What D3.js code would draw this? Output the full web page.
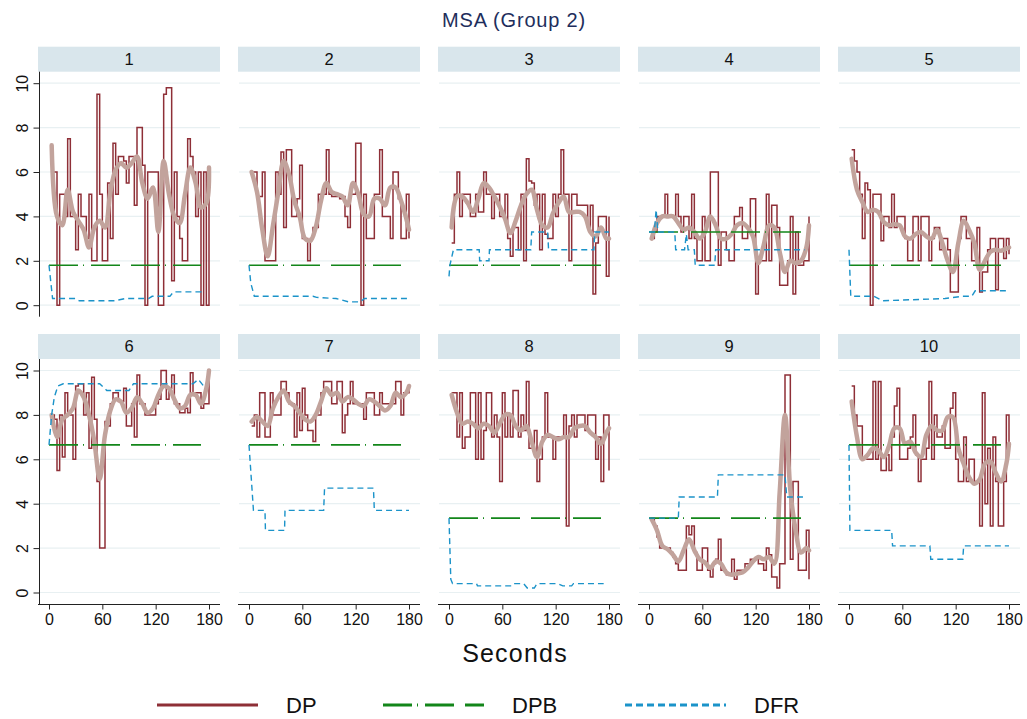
<!DOCTYPE html>
<html>
<head>
<meta charset="utf-8">
<script src="https://cdn.jsdelivr.net/npm/d3@7"></script>
<style>
  body { margin: 0; background: #fff; }
  svg { display: block; }
  text { font-family: "Liberation Sans", Arial, Helvetica, sans-serif; }
</style>
</head>
<body>
<svg id="chart" width="1027" height="719"></svg>
<script>
// ---- data -------------------------------------------------------------
const panels = ["1", "2", "3", "4", "5", "6", "7", "8", "9", "10"];
const seconds = d3.range(3, 181, 3);                      // DP sampling times
const smoothSeconds = d3.range(3, 180, 6).concat([180]);  // smoothed DP times
const xTicks = [0, 60, 120, 180];
const yTicks = [0, 2, 4, 6, 8, 10];

// DP (observed) per subject
const dp1 = [6,6,0,5,5,4,7.5,4,4,2.5,5,4,4,3,5,2,2,9.5,5,2,2,5.5,3,7.3,5,6.7,6.7,6.5,5.5,6.7,6.7,4.5,8,8,6.3,0,6,6,6,6,0,0,9.5,9.8,9.8,1.1,6,4,3,2,2,7.5,6.7,6,4,6,0,6,0,5];
const dp2 = [6,6,4.9,4.9,6,2,2,2,2,6,5,6.9,3.5,7,7,4,4,4.8,6.3,3,3,2,3,3.5,3.5,5,5,5,7,5,4.9,4.9,4.9,4.8,4.9,4,3.5,5,5,7.3,7.3,0,5,3,3,3,5,5,7,4,4,4,3,6,6,4.8,3,3,5,3];
const dp3 = [2.8,5,6,4,5,5,5,4,4,5,4.2,4.2,6,5,5,3.9,5,5,4,4,5,3,2.2,3.5,3.5,2.5,5,2,6.6,5.6,5.5,4.5,5,2.5,5,3.2,3,3,5,4,5,7,5,5,2,5,5,4.5,4.5,4.5,4.5,3.5,4.5,0.5,2.8,4,4,4,1.3,4];
const dp4 = [3,3.3,4,4,4,5,4,4,4,5,4,3.3,4,4,3,5,3,2,2,4,2,2,6,6,6,1.8,3.3,3.3,2.5,2,2,4,4,4.4,3,3,3.3,4.8,4.8,0.5,2,2,2,5,2,4.5,4.5,3.5,0.9,0.9,0.9,2,4,0.5,3.3,1.8,1.8,2,2,4];
const dp5 = [7,6.5,6,5,3,5.5,5.2,0,5,5,5,2.9,4,4,3.5,5,3.5,4,4,4,3,2,2,4,4,2,4,4,4,2,3,3.5,3.5,2.5,3,3,2.5,0.6,0.6,0.6,3,4,4,3,3,2,2,3.5,0.6,1.5,1.5,2.5,3,3,0.7,3,3,2.1,3,2.3];
const dp6 = [8,7.8,5.5,8,6.1,9,8,8,6,9.3,9.4,9.4,8,9,6.5,9.7,7.8,5,2,2,7.7,7.5,8.5,9,9,8.6,8.6,9.2,7.5,7.5,8.5,7,9.8,8.5,8.5,8,8,8,8,8.5,8.7,10,10,8.7,9.2,9.8,8.5,8.5,8.1,8.1,8.3,8.1,9.9,9,9,9,8.3,8.5,8.5,10];
const dp7 = [7.5,8,7,9,9,7,7,9,8,8,8,9.5,9.5,9,8.5,8.5,7,9,7.3,9.2,8,7.3,7.3,6.8,8,8,9,9.5,9.5,9.5,8.5,8.5,9.5,9.5,7.2,8,8.5,9.5,8.5,8.5,8.5,8.5,7.8,9,9,9,8,8,9,8.5,8.5,8.5,8.5,8.5,9.5,9.5,8,9,9,9.3];
const dp8 = [9,9,7,9,6.5,7,7,9,9,6,9,6,7.3,9,9,7,8,7,5,9,7,8,7,9.1,9.1,7,8,7.3,9.5,6.5,6.5,7.3,5,6,7,9,7,7,6,7,7,7,8,3,7.5,8,7,8,8,8,7.3,8,8,8,6,7,5,8,8,5.5];
const dp9 = [3.35,3,2.5,2,2,2,2,1.8,1.6,1.3,1,1,1,3,2.6,3,1.8,1,1,2,2,1,0.7,1.3,1.5,2.4,1,1,0.8,0.8,1.5,0.6,1,1,1,1.3,1.3,1.5,1.5,1.5,1.3,1.3,1,2,1.7,0.7,0.7,0.2,1.3,1.3,9.8,9.8,1.5,5,5,1,1,1,2.8,0.6];
const dp10 = [9.3,8,7.5,7.5,6,6,6,6,9.5,6,9.5,5.5,5.5,6.2,5.5,7,8.4,9.2,6,6,6,6.5,7,8,6.2,5,6,6,6.5,9.5,6,8,7,7,7.5,6.5,6.5,8.3,9,6,5,5,7,5,6,6,5,5,3,9,4,6.5,3,7,5,3,3,5,8,6.2];

// Smoothed DP per subject
const sm1 = [7.2,4.0,3.6,5.2,4.2,3.8,3.4,2.6,3.5,3.8,3.5,5.1,6.1,6.4,6.2,6.4,6.7,5.5,4.8,5.3,3.3,6.5,5.0,4.0,3.7,5.0,6.2,5.5,4.4,4.6,6.2];
const sm2 = [6.0,5.1,3.4,2.2,3.6,5.1,6.5,5.9,4.7,4.0,3.0,2.9,3.5,4.7,5.5,5.1,5.0,4.9,4.5,5.5,5.0,4.1,4.0,4.8,4.8,4.5,5.3,5.3,4.7,3.9,3.4];
const sm3 = [3.5,4.9,4.9,4.6,4.2,4.8,5.5,5.3,4.9,4.45,3.9,3.25,3.8,4.5,5.0,5.2,4.3,3.6,3.5,4.15,4.6,4.9,4.2,4.2,4.2,4.0,3.3,3.1,3.5,3.0,3.0];
const sm4 = [3.0,3.7,4.0,4.0,4.0,3.7,3.4,3.5,3.3,3.0,3.3,4.0,3.6,3.0,3.0,3.2,3.6,3.7,3.5,3.1,1.9,2.7,3.6,3.5,2.4,1.5,2.0,1.9,2.0,2.6,3.6];
const sm5 = [6.6,5.2,4.65,4.2,4.3,4.2,3.75,3.6,3.65,3.6,3.1,3.0,3.2,3.3,3.1,3.0,3.4,2.8,2.0,1.5,2.8,3.8,3.4,2.8,1.6,2.0,2.4,2.5,2.45,2.55,2.6];
const sm6 = [8.0,7.0,7.8,8.0,8.3,9.1,8.8,8.0,6.8,5.1,7.1,8.2,8.7,8.6,8.1,8.3,8.8,8.5,8.1,8.3,8.9,9.3,9.2,8.7,8.3,8.4,8.9,8.9,8.5,9.2,10.0];
const sm7 = [7.7,7.9,7.7,7.5,8.3,8.8,9.1,8.6,8.4,8.1,7.8,7.7,8.0,8.6,9.2,8.9,9.0,8.6,8.8,8.7,8.5,8.4,8.7,8.6,8.4,8.2,8.4,9.0,8.8,9.0,9.3];
const sm8 = [8.9,8.1,7.6,7.7,7.6,7.4,7.6,7.5,7.2,7.6,8.0,8.0,7.5,7.3,7.5,6.8,6.1,6.8,7.1,7.0,6.9,7.0,7.0,7.4,7.5,7.5,7.2,7.0,6.7,7.2,7.4];
const sm9 = [3.3,2.8,2.1,1.95,1.7,1.4,1.9,2.4,1.9,1.5,1.35,1.1,1.4,1.3,0.9,0.8,0.85,0.9,1.1,1.4,1.6,1.5,1.6,1.3,4.5,8.0,4.6,2.8,1.8,2.0,1.9];
const sm10 = [8.6,7.0,6.0,6.2,6.5,6.4,6.1,6.6,7.4,7.4,6.7,6.8,6.3,6.1,7.1,7.5,7.3,7.3,7.9,7.9,6.5,5.8,5.2,4.9,5.1,5.8,5.9,5.4,5.0,5.8,6.7];

// DPB (benchmark) level per subject
const dpb = [1.8, 1.8, 1.8, 3.3, 1.8, 6.65, 6.65, 3.35, 3.35, 6.65];
const dpbSpan = [0, 171];

// DFR path per subject: [second, value]
const dfr1 = [[0,1.8],[4,0.3],[30,0.3],[34,0.2],[74,0.2],[86,0.3],[112,0.3],[116,0.4],[136,0.4],[140,0.6],[174,0.6]];
const dfr2 = [[0,1.8],[2,1.0],[6,0.4],[72,0.4],[76,0.35],[98,0.3],[112,0.15],[125,0.15],[130,0.3],[180,0.3]];
const dfr3 = [[0,1.3],[1,1.8],[5,2.5],[34,2.5],[34.5,2.0],[45,2.0],[45.5,2.5],[92,2.5],[93,3.3],[111,3.3],[112,2.5],[163,2.5],[164,3.3],[180,3.3]];
const dfr4 = [[0,3.3],[6,3.3],[8,4.3],[10,3.3],[29,3.3],[30,2.5],[40,2.5],[42,3.2],[44,2.5],[51,2.5],[52,1.8],[74,1.8],[75,2.5],[175,2.5]];
const dfr5 = [[0,2.5],[2,0.4],[28,0.4],[38,0.2],[108,0.3],[128,0.4],[138,0.4],[142,0.65],[180,0.65]];
const dfr6 = [[0,6.65],[3,8.0],[6,8.8],[10,9.3],[16,9.4],[57,9.4],[65,9.1],[90,9.1],[95,9.4],[162,9.4],[168,9.6],[174,9.3]];
const dfr7 = [[0,6.65],[5,3.7],[18,3.7],[18.5,2.8],[40,2.8],[40.5,3.7],[84,3.7],[85,4.7],[140,4.7],[141,3.7],[180,3.7]];
const dfr8 = [[0,3.35],[2,0.6],[4,0.4],[31,0.4],[32,0.3],[72,0.3],[74,0.4],[84,0.4],[88,0.2],[96,0.2],[99,0.4],[122,0.4],[128,0.3],[138,0.3],[140,0.4],[174,0.4]];
const dfr9 = [[0,3.35],[33,3.35],[34,4.3],[77,4.3],[78,5.3],[153,5.3],[155,4.3],[174,4.3]];
const dfr10 = [[0,6.65],[1,2.8],[48,2.8],[49,2.1],[91,2.1],[92,1.5],[128,1.5],[129,2.1],[180,2.1]];

const dpSeries = [dp1, dp2, dp3, dp4, dp5, dp6, dp7, dp8, dp9, dp10];
const smSeries = [sm1, sm2, sm3, sm4, sm5, sm6, sm7, sm8, sm9, sm10];
const dfrSeries = [dfr1, dfr2, dfr3, dfr4, dfr5, dfr6, dfr7, dfr8, dfr9, dfr10];

const legendItems = [
  { key: "DP", color: "#8e2f37", dash: null },
  { key: "DPB", color: "#13861a", dash: "29,5,1,7,29,11" },
  { key: "DFR", color: "#1b93c9", dash: "7,4" }
];

// ---- layout -----------------------------------------------------------
const COLORS = {
  strip: "#d9e6ec", grid: "#e8f0f2", dp: "#8e2f37", smooth: "#c2a39c",
  dpb: "#13861a", dfr: "#1b93c9", axis: "#222", title: "#1e2e5c"
};
const ncol = 5, panelW = 182, pitchX = 200, left0 = 38;
const stripTop0 = 46.7, pitchY = 287.3, stripH = 25, plotH = 245;

const svg = d3.select("#chart");

svg.append("text")
  .attr("x", 514).attr("y", 27)
  .attr("text-anchor", "middle")
  .attr("font-size", 20)
  .attr("letter-spacing", 0.8)
  .attr("fill", COLORS.title)
  .text("MSA (Group 2)");

panels.forEach((name, i) => {
  const col = i % ncol, row = Math.floor(i / ncol);
  const left = left0 + col * pitchX;
  const stripTop = stripTop0 + row * pitchY;
  const plotTop = stripTop + stripH;
  const plotBottom = plotTop + plotH;

  const x = d3.scaleLinear().domain([0, 180]).range([left + 11, left + 171]);
  const y = d3.scaleLinear().domain([0, 10]).range([plotTop + 233.5, plotTop + 11.5]);

  const g = svg.append("g");

  // strip header
  g.append("rect")
    .attr("x", left).attr("y", stripTop)
    .attr("width", panelW).attr("height", stripH)
    .attr("fill", COLORS.strip);
  g.append("text")
    .attr("x", left + panelW / 2).attr("y", stripTop + stripH / 2)
    .attr("dy", "0.36em")
    .attr("text-anchor", "middle")
    .attr("font-size", 16.5)
    .attr("fill", "#111")
    .text(name);

  // horizontal gridlines
  g.selectAll("line.grid").data(yTicks).join("line")
    .attr("class", "grid")
    .attr("x1", left + 1).attr("x2", left + panelW)
    .attr("y1", d => y(d)).attr("y2", d => y(d))
    .attr("stroke", COLORS.grid).attr("stroke-width", 1.2);

  // y axis on first column
  if (col === 0) {
    g.append("line")
      .attr("x1", left + 1.5).attr("x2", left + 1.5)
      .attr("y1", plotTop).attr("y2", plotBottom)
      .attr("stroke", COLORS.axis).attr("stroke-width", 1);
    const ya = g.append("g")
      .attr("transform", `translate(${left + 1.5},0)`)
      .call(d3.axisLeft(y).tickValues(yTicks).tickSize(6).tickSizeOuter(0));
    ya.select(".domain").remove();
    ya.selectAll(".tick line").attr("stroke", COLORS.axis);
    ya.selectAll(".tick text")
      .attr("x", 0).attr("y", -11.5).attr("dy", null)
      .attr("text-anchor", "middle")
      .attr("transform", "rotate(-90)")
      .attr("font-size", 16)
      .attr("font-family", null)
      .attr("fill", "#111");
  }

  // x axis on bottom row
  if (row === 1) {
    g.append("line")
      .attr("x1", left).attr("x2", left + panelW)
      .attr("y1", plotBottom + 0.5).attr("y2", plotBottom + 0.5)
      .attr("stroke", COLORS.axis).attr("stroke-width", 1);
    const xa = g.append("g")
      .attr("transform", `translate(0,${plotBottom + 0.5})`)
      .call(d3.axisBottom(x).tickValues(xTicks).tickSize(5).tickSizeOuter(0));
    xa.select(".domain").remove();
    xa.selectAll(".tick line").attr("stroke", COLORS.axis);
    xa.selectAll(".tick text")
      .attr("y", 9).attr("font-size", 16)
      .attr("font-family", null)
      .attr("fill", "#111");
  }

  // DP step line
  const dpPts = seconds.map((s, k) => [s, dpSeries[i][k]]);
  g.append("path")
    .datum(dpPts)
    .attr("fill", "none")
    .attr("stroke", COLORS.dp)
    .attr("stroke-width", 1.5)
    .attr("stroke-linejoin", "miter")
    .attr("d", d3.line().x(d => x(d[0])).y(d => y(d[1])).curve(d3.curveStepAfter));

  // smoothed DP
  const smPts = smoothSeconds.map((s, k) => [s, smSeries[i][k]]);
  g.append("path")
    .datum(smPts)
    .attr("fill", "none")
    .attr("stroke", COLORS.smooth)
    .attr("stroke-width", 4.5)
    .attr("stroke-linejoin", "round")
    .attr("stroke-linecap", "round")
    .attr("d", d3.line().x(d => x(d[0])).y(d => y(d[1])).curve(d3.curveCatmullRom.alpha(0.5)));

  // DPB benchmark
  g.append("path")
    .datum(dpbSpan.map(s => [s, dpb[i]]))
    .attr("fill", "none")
    .attr("stroke", COLORS.dpb)
    .attr("stroke-width", 1.6)
    .attr("stroke-dasharray", "29,5,1,7,29,11")
    .attr("d", d3.line().x(d => x(d[0])).y(d => y(d[1])));

  // DFR
  g.append("path")
    .datum(dfrSeries[i])
    .attr("fill", "none")
    .attr("stroke", COLORS.dfr)
    .attr("stroke-width", 1.4)
    .attr("stroke-dasharray", "6,4")
    .attr("d", d3.line().x(d => x(d[0])).y(d => y(d[1])));
});

// x axis title
svg.append("text")
  .attr("x", 515).attr("y", 662)
  .attr("text-anchor", "middle")
  .attr("font-size", 25)
  .attr("letter-spacing", 1.2)
  .attr("fill", "#111")
  .text("Seconds");

// legend
const legendX = [157, 383, 625];
const leg = svg.append("g");
legendItems.forEach((item, k) => {
  const lx = legendX[k];
  leg.append("line")
    .attr("x1", lx).attr("x2", lx + 101)
    .attr("y1", 705).attr("y2", 705)
    .attr("stroke", item.color)
    .attr("stroke-width", 3)
    .attr("stroke-dasharray", item.dash);
  leg.append("text")
    .attr("x", lx + 129).attr("y", 713)
    .attr("font-size", 22)
    .attr("fill", "#111")
    .text(item.key);
});
</script>
</body>
</html>
